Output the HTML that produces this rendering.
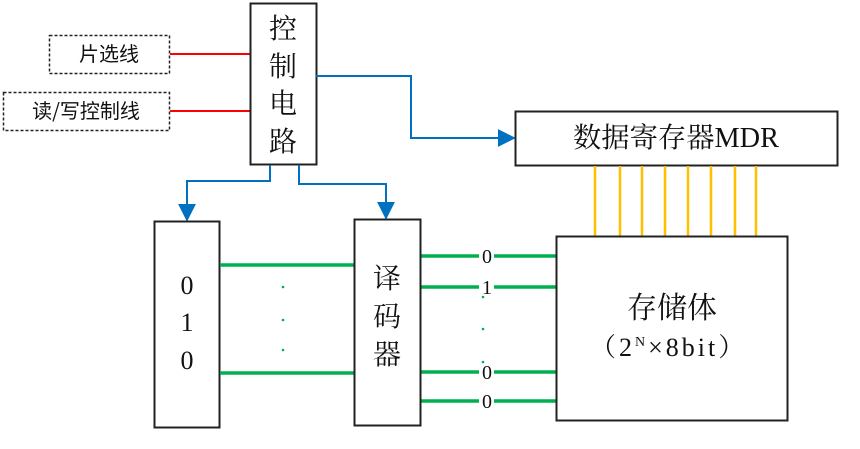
<!DOCTYPE html>
<html><head><meta charset="utf-8"><style>
body{margin:0;background:#fff}
svg text{font-family:"Liberation Serif","Noto Serif CJK SC","Noto Sans CJK SC",serif;fill:#111}
</style></head><body>
<svg width="860" height="444" viewBox="0 0 860 444" xmlns="http://www.w3.org/2000/svg">
<defs>
<marker id="b" viewBox="0 0 10 10" markerWidth="18" markerHeight="22" refX="9" refY="5" orient="auto" markerUnits="userSpaceOnUse"><path d="M0,0 L10,5 L0,10 z" fill="#0070c0"/></marker></defs>
<!-- dashed boxes -->
<rect x="49.5" y="35.5" width="120" height="38" fill="none" stroke="#222" stroke-width="1.5" stroke-dasharray="3,2"/>
<text x="109" y="61" font-size="20" text-anchor="middle" style="font-family:'Noto Sans CJK SC',sans-serif">片选线</text>
<rect x="3.5" y="92.5" width="166" height="38" fill="none" stroke="#222" stroke-width="1.5" stroke-dasharray="3,2"/>
<text x="86" y="118" font-size="20" text-anchor="middle" style="font-family:'Noto Sans CJK SC',sans-serif">读/写控制线</text>
<line x1="170" y1="54" x2="250" y2="54" stroke="#f00" stroke-width="2"/>
<line x1="170" y1="111" x2="250" y2="111" stroke="#f00" stroke-width="2"/>
<!-- control -->
<rect x="250.5" y="3.5" width="66" height="161" fill="#fff" stroke="#222" stroke-width="2"/>
<text x="283" y="38" font-size="28" text-anchor="middle">控</text>
<text x="283" y="76" font-size="28" text-anchor="middle">制</text>
<text x="283" y="113" font-size="28" text-anchor="middle">电</text>
<text x="283" y="151" font-size="28" text-anchor="middle">路</text>
<!-- blue -->
<polyline points="316,76 411,76 411,138 514,138" fill="none" stroke="#0070c0" stroke-width="2" marker-end="url(#b)"/>
<polyline points="270,165 270,181 187,181 187,220" fill="none" stroke="#0070c0" stroke-width="2" marker-end="url(#b)"/>
<polyline points="299,165 299,184 386,184 386,218" fill="none" stroke="#0070c0" stroke-width="2" marker-end="url(#b)"/>
<!-- MDR -->
<rect x="515.5" y="111.5" width="322" height="54" fill="#fff" stroke="#222" stroke-width="2"/>
<text x="676" y="147" font-size="28" text-anchor="middle" textLength="206" lengthAdjust="spacingAndGlyphs">数据寄存器MDR</text>
<!-- orange -->
<g stroke="#ffc000" stroke-width="2.5">
<line x1="595" y1="166" x2="595" y2="236"/><line x1="620" y1="166" x2="620" y2="236"/>
<line x1="642" y1="166" x2="642" y2="236"/><line x1="665" y1="166" x2="665" y2="236"/>
<line x1="688" y1="166" x2="688" y2="236"/><line x1="711" y1="166" x2="711" y2="236"/>
<line x1="735" y1="166" x2="735" y2="236"/><line x1="756" y1="166" x2="756" y2="236"/>
</g>
<!-- left box -->
<rect x="154.5" y="221.5" width="65" height="206" fill="#fff" stroke="#222" stroke-width="2"/>
<text x="187" y="294" font-size="26" text-anchor="middle">0</text>
<text x="187" y="331" font-size="26" text-anchor="middle">1</text>
<text x="187" y="369" font-size="26" text-anchor="middle">0</text>
<g stroke="#00b050" stroke-width="3.5">
<line x1="220" y1="265" x2="354" y2="265"/><line x1="220" y1="373" x2="354" y2="373"/>
<line x1="421" y1="256" x2="479" y2="256"/><line x1="494" y1="256" x2="556" y2="256"/>
<line x1="421" y1="287" x2="479" y2="287"/><line x1="494" y1="287" x2="556" y2="287"/>
<line x1="421" y1="372" x2="479" y2="372"/><line x1="494" y1="372" x2="556" y2="372"/>
<line x1="421" y1="401" x2="479" y2="401"/><line x1="494" y1="401" x2="556" y2="401"/>
</g>
<g fill="#00b050"><circle cx="283" cy="287" r="1.3"/><circle cx="283" cy="320" r="1.3"/><circle cx="283" cy="350" r="1.3"/>
<circle cx="483" cy="297" r="1.3"/><circle cx="483" cy="329" r="1.3"/><circle cx="483" cy="362" r="1.3"/></g>
<g font-size="20" text-anchor="middle">
<text x="487" y="263">0</text><text x="487" y="294">1</text><text x="487" y="379">0</text><text x="487" y="408">0</text></g>
<!-- decoder -->
<rect x="354.5" y="219.5" width="66" height="206" fill="#fff" stroke="#222" stroke-width="2"/>
<text x="387" y="288" font-size="28" text-anchor="middle">译</text>
<text x="387" y="326" font-size="28" text-anchor="middle">码</text>
<text x="387" y="364" font-size="28" text-anchor="middle">器</text>
<!-- memory -->
<rect x="556.5" y="236.5" width="231" height="184" fill="#fff" stroke="#222" stroke-width="2"/>
<text x="672" y="318" font-size="30" text-anchor="middle">存储体</text>
<text x="590" y="356" font-size="26" letter-spacing="3">（2<tspan font-size="14" dy="-10">N</tspan><tspan dy="10">×8bit）</tspan></text>
</svg>
</body></html>
